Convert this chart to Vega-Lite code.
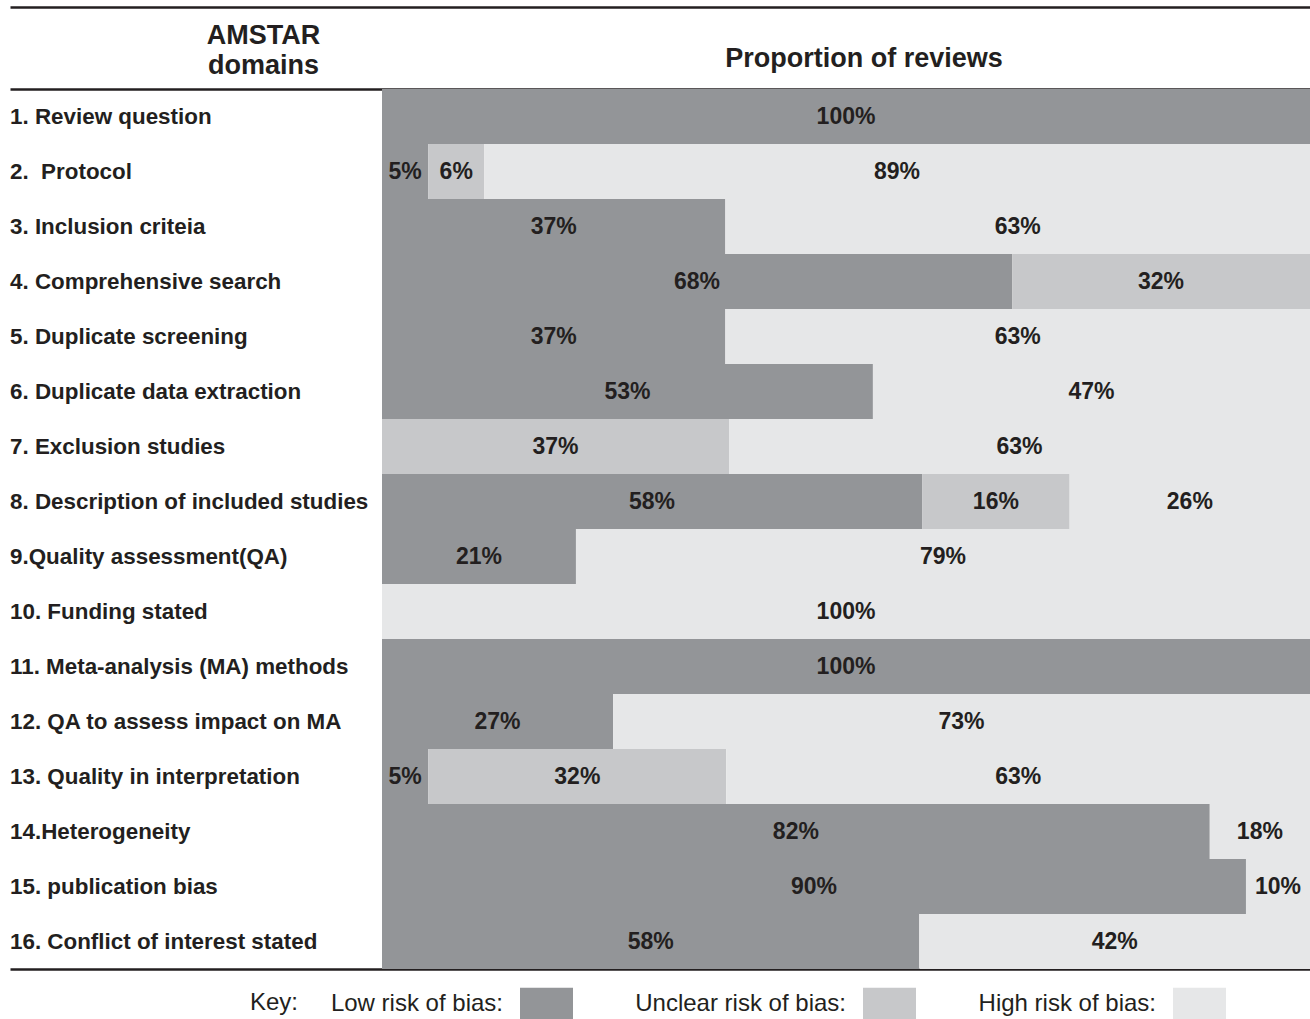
{
  "$schema": "https://vega.github.io/schema/vega-lite/v6.json",
  "width": 1300,
  "height": 880,
  "autosize": {"type": "none"},
  "padding": {"left": 10, "top": 89, "right": 0, "bottom": 50},
  "background": "#ffffff",
  "config": {
    "view": {"stroke": null},
    "font": "Liberation Sans",
    "axis": {"domainColor": "#231f20", "domainWidth": 2.5, "ticks": false, "labels": false, "grid": false}
  },
  "datasets": {
    "cells": [
      {"domain": "1. Review question", "risk": "Low risk of bias:", "k": 1, "value": 100, "label": "100%"},
      {"domain": "2.\u00a0 Protocol", "risk": "Low risk of bias:", "k": 1, "value": 5, "label": "5%"},
      {"domain": "2.\u00a0 Protocol", "risk": "Unclear risk of bias:", "k": 2, "value": 6, "label": "6%"},
      {"domain": "2.\u00a0 Protocol", "risk": "High risk of bias:", "k": 3, "value": 89, "label": "89%"},
      {"domain": "3. Inclusion criteia", "risk": "Low risk of bias:", "k": 1, "value": 37, "label": "37%"},
      {"domain": "3. Inclusion criteia", "risk": "High risk of bias:", "k": 3, "value": 63, "label": "63%"},
      {"domain": "4. Comprehensive search", "risk": "Low risk of bias:", "k": 1, "value": 67.9, "label": "68%"},
      {"domain": "4. Comprehensive search", "risk": "Unclear risk of bias:", "k": 2, "value": 32.1, "label": "32%"},
      {"domain": "5. Duplicate screening", "risk": "Low risk of bias:", "k": 1, "value": 37, "label": "37%"},
      {"domain": "5. Duplicate screening", "risk": "High risk of bias:", "k": 3, "value": 63, "label": "63%"},
      {"domain": "6. Duplicate data extraction", "risk": "Low risk of bias:", "k": 1, "value": 52.9, "label": "53%"},
      {"domain": "6. Duplicate data extraction", "risk": "High risk of bias:", "k": 3, "value": 47.1, "label": "47%"},
      {"domain": "7. Exclusion studies", "risk": "Unclear risk of bias:", "k": 2, "value": 37.4, "label": "37%"},
      {"domain": "7. Exclusion studies", "risk": "High risk of bias:", "k": 3, "value": 62.6, "label": "63%"},
      {"domain": "8. Description of included studies", "risk": "Low risk of bias:", "k": 1, "value": 58.2, "label": "58%"},
      {"domain": "8. Description of included studies", "risk": "Unclear risk of bias:", "k": 2, "value": 15.9, "label": "16%"},
      {"domain": "8. Description of included studies", "risk": "High risk of bias:", "k": 3, "value": 25.9, "label": "26%"},
      {"domain": "9.Quality assessment(QA)", "risk": "Low risk of bias:", "k": 1, "value": 20.9, "label": "21%"},
      {"domain": "9.Quality assessment(QA)", "risk": "High risk of bias:", "k": 3, "value": 79.1, "label": "79%"},
      {"domain": "10. Funding stated", "risk": "High risk of bias:", "k": 3, "value": 100, "label": "100%"},
      {"domain": "11. Meta-analysis (MA) methods", "risk": "Low risk of bias:", "k": 1, "value": 100, "label": "100%"},
      {"domain": "12. QA to assess impact on MA", "risk": "Low risk of bias:", "k": 1, "value": 24.9, "label": "27%"},
      {"domain": "12. QA to assess impact on MA", "risk": "High risk of bias:", "k": 3, "value": 75.1, "label": "73%"},
      {"domain": "13. Quality in interpretation", "risk": "Low risk of bias:", "k": 1, "value": 5, "label": "5%"},
      {"domain": "13. Quality in interpretation", "risk": "Unclear risk of bias:", "k": 2, "value": 32.1, "label": "32%"},
      {"domain": "13. Quality in interpretation", "risk": "High risk of bias:", "k": 3, "value": 62.9, "label": "63%"},
      {"domain": "14.Heterogeneity", "risk": "Low risk of bias:", "k": 1, "value": 89.2, "label": "82%"},
      {"domain": "14.Heterogeneity", "risk": "High risk of bias:", "k": 3, "value": 10.8, "label": "18%"},
      {"domain": "15. publication bias", "risk": "Low risk of bias:", "k": 1, "value": 93.1, "label": "90%"},
      {"domain": "15. publication bias", "risk": "High risk of bias:", "k": 3, "value": 6.9, "label": "10%"},
      {"domain": "16. Conflict of interest stated", "risk": "Low risk of bias:", "k": 1, "value": 57.9, "label": "58%"},
      {"domain": "16. Conflict of interest stated", "risk": "High risk of bias:", "k": 3, "value": 42.1, "label": "42%"}
    ],
    "domains": [
      {"domain": "1. Review question"},
      {"domain": "2.\u00a0 Protocol"},
      {"domain": "3. Inclusion criteia"},
      {"domain": "4. Comprehensive search"},
      {"domain": "5. Duplicate screening"},
      {"domain": "6. Duplicate data extraction"},
      {"domain": "7. Exclusion studies"},
      {"domain": "8. Description of included studies"},
      {"domain": "9.Quality assessment(QA)"},
      {"domain": "10. Funding stated"},
      {"domain": "11. Meta-analysis (MA) methods"},
      {"domain": "12. QA to assess impact on MA"},
      {"domain": "13. Quality in interpretation"},
      {"domain": "14.Heterogeneity"},
      {"domain": "15. publication bias"},
      {"domain": "16. Conflict of interest stated"}
    ]
  },
  "layer": [
    {
      "data": {"name": "cells"},
      "transform": [
        {"stack": "value", "groupby": ["domain"], "sort": [{"field": "k", "order": "ascending"}], "as": ["v0", "v1"]}
      ],
      "mark": {"type": "bar", "strokeWidth": 0},
      "encoding": {
        "y": {
          "field": "domain", "type": "nominal",
          "scale": {
            "domain": ["1. Review question", "2.\u00a0 Protocol", "3. Inclusion criteia", "4. Comprehensive search", "5. Duplicate screening", "6. Duplicate data extraction", "7. Exclusion studies", "8. Description of included studies", "9.Quality assessment(QA)", "10. Funding stated", "11. Meta-analysis (MA) methods", "12. QA to assess impact on MA", "13. Quality in interpretation", "14.Heterogeneity", "15. publication bias", "16. Conflict of interest stated"],
            "paddingInner": 0, "paddingOuter": 0
          },
          "axis": null
        },
        "x": {
          "field": "v0", "type": "quantitative",
          "scale": {"domain": [-40.086, 100], "nice": false, "zero": false},
          "axis": {"orient": "bottom", "domain": true, "title": null}
        },
        "x2": {"field": "v1"},
        "color": {
          "field": "risk", "type": "nominal",
          "scale": {"domain": ["Low risk of bias:", "Unclear risk of bias:", "High risk of bias:"], "range": ["#939598", "#c7c8ca", "#e6e7e8"]},
          "legend": {
            "orient": "none", "legendX": 240, "legendY": 888,
            "direction": "horizontal",
            "title": "Key:", "titleOrient": "left", "titleAnchor": "end", "titleBaseline": "line-bottom", "titleLineHeight": 34, "titleFontSize": 24, "titleFontWeight": "normal", "titleColor": "#231f20", "titlePadding": 221,
            "labelFontSize": 24, "labelColor": "#231f20", "labelAlign": "right", "labelOffset": -70, "labelLimit": 400,
            "symbolType": "M-1,-0.604H1V0.604H-1Z", "symbolSize": 2809, "symbolStrokeWidth": 0, "symbolOpacity": 1,
            "columnPadding": 62, "padding": 0
          }
        }
      }
    },
    {
      "data": {"name": "cells"},
      "transform": [
        {"stack": "value", "groupby": ["domain"], "sort": [{"field": "k", "order": "ascending"}], "as": ["v0", "v1"]},
        {"fold": ["v0", "v1"], "as": ["edge_name", "edge"]}
      ],
      "mark": {"type": "text", "fontSize": 23, "fontWeight": "bold", "color": "#231f20", "baseline": "middle", "align": "center"},
      "encoding": {
        "y": {"field": "domain", "type": "nominal"},
        "x": {
          "field": "edge", "type": "quantitative", "aggregate": "mean",
          "axis": {"orient": "top", "domain": true, "offset": 0, "title": "Proportion of reviews", "titleX": 853.5, "titleY": -23, "titleAlign": "center", "titleBaseline": "alphabetic", "titleAngle": 0, "titleFontSize": 27, "titleFontWeight": "bold", "titleColor": "#231f20"}
        },
        "detail": {"field": "risk"},
        "text": {"field": "label"}
      }
    },
    {
      "data": {"name": "domains"},
      "mark": {"type": "text", "fontSize": 22.4, "fontWeight": "bold", "color": "#231f20", "baseline": "middle", "align": "left"},
      "encoding": {
        "y": {"field": "domain", "type": "nominal"},
        "x": {
          "datum": -40.086, "type": "quantitative",
          "axis": {"orient": "top", "domain": true, "offset": 82, "title": ["AMSTAR", "domains"], "titleX": 253, "titleY": 36, "titleAlign": "center", "titleBaseline": "alphabetic", "titleAngle": 0, "titleLineHeight": 30, "titleFontSize": 27, "titleFontWeight": "bold", "titleColor": "#231f20"}
        },
        "text": {"field": "domain"}
      }
    }
  ],
  "resolve": {"axis": {"x": "independent"}}
}
